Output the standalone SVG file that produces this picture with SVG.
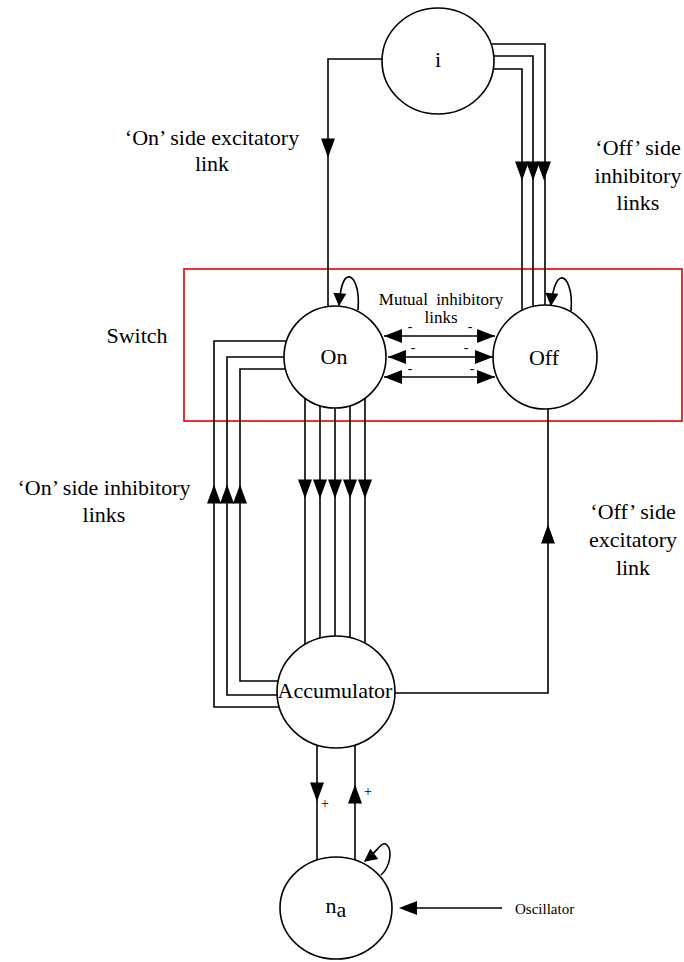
<svg xmlns="http://www.w3.org/2000/svg" width="684" height="962" viewBox="0 0 684 962">
<style>
.n{fill:#fff;stroke:#000;stroke-width:1.6}
.c{fill:none;stroke:#000;stroke-width:1.6}
.t{font-family:"Liberation Serif","Times New Roman",serif;font-size:22px;fill:#000;text-anchor:middle}
.s{font-family:"Liberation Serif","Times New Roman",serif;font-size:14px;fill:#000;text-anchor:middle}
.ah{fill:#000}
</style>
<defs>
<path id="ad" class="ah" d="M-7,-9.5 L7,-9.5 L0,9.5 Z"/>
<path id="au" class="ah" d="M-7,9.5 L7,9.5 L0,-9.5 Z"/>
<path id="al" class="ah" d="M9,-7 L9,7 L-9,0 Z"/>
<path id="ar" class="ah" d="M-9,-7 L-9,7 L9,0 Z"/>
<marker id="m" viewBox="0 0 10 10" refX="9" refY="5" markerWidth="15" markerHeight="13" markerUnits="userSpaceOnUse" orient="auto"><path d="M0,0 L10,5 L0,10 Z" fill="#000"/></marker>
</defs>
<rect x="184" y="269" width="498" height="152" fill="none" stroke="#e00000" stroke-width="1.6"/>
<g id="connectors">
<path class="c" d="M382,59 H328 V306"/>
<use href="#ad" x="328" y="148"/>
<path class="c" d="M491,44 H545 V305"/>
<path class="c" d="M494,56 H533 V306"/>
<path class="c" d="M493,69 H522 V310"/>
<use href="#ad" x="522" y="171"/>
<use href="#ad" x="533" y="171"/>
<use href="#ad" x="544" y="171"/>
<path class="c" d="M358,310 C360,286 353,276 348,277 C343,278 340,291 339,305" marker-end="url(#m)"/>
<path class="c" d="M571,311 C573,288 566,277 561,278 C556,279 552,292 551,305" marker-end="url(#m)"/>
<path class="c" d="M384,336 H495"/>
<path class="c" d="M388,357 H493"/>
<path class="c" d="M384,377 H495"/>
<use href="#al" x="393" y="336"/><use href="#ar" x="486" y="336"/>
<use href="#al" x="397" y="357"/><use href="#ar" x="484" y="357"/>
<use href="#al" x="393" y="377"/><use href="#ar" x="486" y="377"/>
<path class="c" d="M287,341 H214 V707 H279"/>
<path class="c" d="M284,357 H227 V695 H277"/>
<path class="c" d="M285,369 H240 V681 H278"/>
<use href="#au" x="214" y="494"/>
<use href="#au" x="227" y="494"/>
<use href="#au" x="240" y="494"/>
<path class="c" d="M305,398 V644"/>
<path class="c" d="M320,405 V638"/>
<path class="c" d="M335,408 V636"/>
<path class="c" d="M350,405 V638"/>
<path class="c" d="M365,398 V644"/>
<use href="#ad" x="305" y="489"/>
<use href="#ad" x="320" y="489"/>
<use href="#ad" x="335" y="489"/>
<use href="#ad" x="350" y="489"/>
<use href="#ad" x="365" y="489"/>
<path class="c" d="M395,693 H548 V409"/>
<use href="#au" x="548" y="534"/>
<path class="c" d="M317,745 V860"/>
<path class="c" d="M355,745 V860"/>
<use href="#ad" x="317" y="792"/>
<use href="#au" x="355" y="794"/>
<path class="c" d="M381,875 C391,866 392,850 387,845 C382,840 378,851 365,861" marker-end="url(#m)"/>
<path class="c" d="M502,908 H408"/>
<use href="#al" x="408" y="908"/>
</g>
<g id="node-i"><ellipse class="n" cx="438" cy="61" rx="56" ry="53"/><text class="t" x="438" y="67">i</text></g>
<g id="node-on"><circle class="n" cx="335" cy="357" r="51"/><text class="t" x="334" y="364">On</text></g>
<g id="node-off"><circle class="n" cx="545" cy="357" r="52"/><text class="t" x="544" y="365">Off</text></g>
<g id="node-acc"><ellipse class="n" cx="336" cy="692" rx="59" ry="56"/><text class="t" x="335" y="698">Accumulator</text></g>
<g id="node-na"><ellipse class="n" cx="336" cy="908" rx="56" ry="51"/><text class="t" x="336" y="913">n<tspan dy="4">a</tspan></text></g>
<g id="labels">
<text class="t" x="212" y="145">‘On’ side excitatory</text>
<text class="t" x="212" y="171">link</text>
<text class="t" x="638" y="155">‘Off’ side</text>
<text class="t" x="638" y="183">inhibitory</text>
<text class="t" x="638" y="210">links</text>
<text class="t" x="137" y="343">Switch</text>
<text class="s" x="441" y="305" style="font-size:17px;word-spacing:4px">Mutual inhibitory</text>
<text class="s" x="441" y="323" style="font-size:17px">links</text>
<text class="s" x="410" y="331">-</text><text class="s" x="470" y="331">-</text>
<text class="s" x="413" y="352">-</text><text class="s" x="466" y="352">-</text>
<text class="s" x="410" y="373">-</text><text class="s" x="472" y="373">-</text>
<text class="t" x="104" y="495">‘On’ side inhibitory</text>
<text class="t" x="104" y="522">links</text>
<text class="t" x="633" y="519">‘Off’ side</text>
<text class="t" x="633" y="547">excitatory</text>
<text class="t" x="633" y="575">link</text>
<text class="s" x="325" y="808">+</text>
<text class="s" x="368" y="796">+</text>
<text class="s" x="515" y="914" style="text-anchor:start;font-size:15px">Oscillator</text>
</g>
</svg>
